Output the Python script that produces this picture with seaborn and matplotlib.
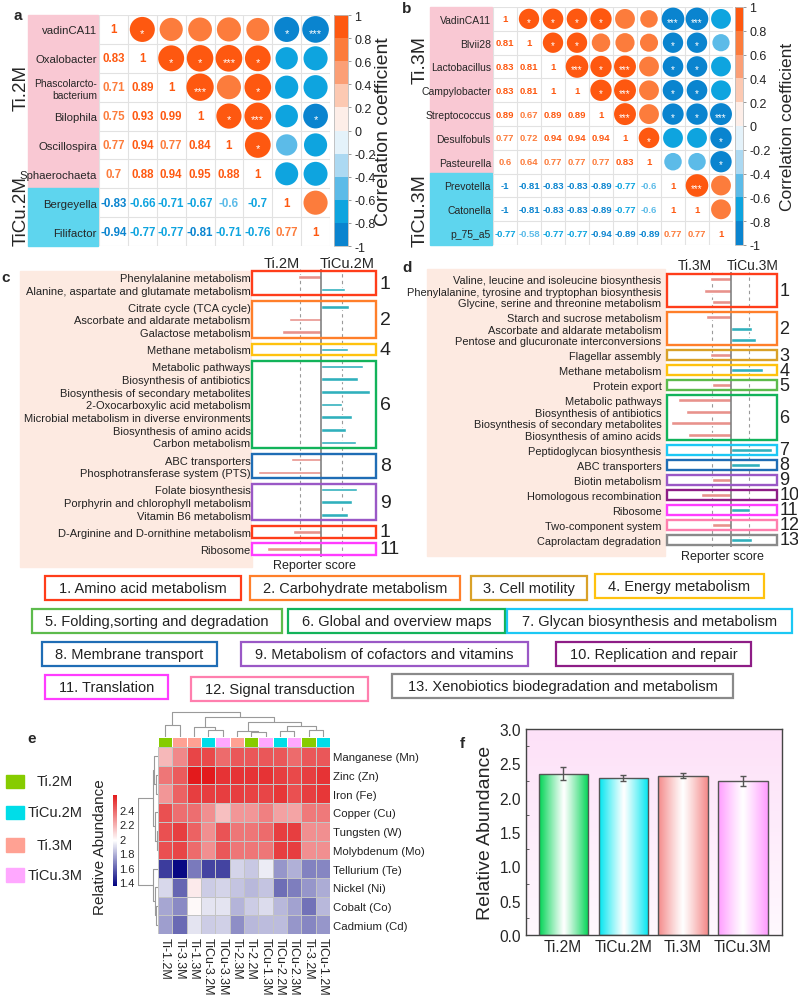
import numpy as np
import pandas as pd
import matplotlib
matplotlib.use("Agg")
import matplotlib.pyplot as plt
import matplotlib.colors as mcolors
import matplotlib.transforms as mtransforms
from matplotlib.patches import Rectangle
import seaborn as sns

sns.set_theme(style="white")
plt.rcParams["font.family"] = ["Liberation Sans", "DejaVu Sans"]

# ---------------- data ----------------
# a: Ti.2M / TiCu.2M genus correlations (lower triangle)
a_names = ["vadinCA11", "Oxalobacter", "Phascolarcto-\nbacterium", "Bilophila",
           "Oscillospira", "Sphaerochaeta", "Bergeyella", "Filifactor"]
a_lower = [
    [0.83],
    [0.71, 0.89],
    [0.75, 0.93, 0.99],
    [0.77, 0.94, 0.77, 0.84],
    [0.7, 0.88, 0.94, 0.95, 0.88],
    [-0.83, -0.66, -0.71, -0.67, -0.6, -0.7],
    [-0.94, -0.77, -0.77, -0.81, -0.71, -0.76, 0.77],
]
a_stars = [(0, 1, "*"), (0, 6, "*"), (0, 7, "***"),
           (1, 2, "*"), (1, 3, "*"), (1, 4, "***"), (1, 5, "*"),
           (2, 3, "***"), (2, 5, "*"),
           (3, 4, "*"), (3, 5, "***"), (3, 7, "*"),
           (4, 5, "*")]

# b: Ti.3M / TiCu.3M genus correlations
b_names = ["VadinCA11", "Blvii28", "Lactobacillus", "Campylobacter", "Streptococcus",
           "Desulfobuls", "Pasteurella", "Prevotella", "Catonella", "p_75_a5"]
b_lower = [
    [0.81],
    [0.83, 0.81],
    [0.83, 0.81, 1],
    [0.89, 0.67, 0.89, 0.89],
    [0.77, 0.72, 0.94, 0.94, 0.94],
    [0.6, 0.64, 0.77, 0.77, 0.77, 0.83],
    [-1, -0.81, -0.83, -0.83, -0.89, -0.77, -0.6],
    [-1, -0.81, -0.83, -0.83, -0.89, -0.77, -0.6, 1],
    [-0.77, -0.58, -0.77, -0.77, -0.94, -0.89, -0.89, 0.77, 0.77],
]
b_stars = [(0, 1, "*"), (0, 2, "*"), (0, 3, "*"), (0, 4, "*"), (0, 7, "***"), (0, 8, "***"),
           (1, 2, "*"), (1, 3, "*"), (1, 7, "*"), (1, 8, "*"),
           (2, 3, "***"), (2, 4, "*"), (2, 5, "***"), (2, 7, "*"), (2, 8, "*"),
           (3, 4, "*"), (3, 5, "***"), (3, 7, "*"), (3, 8, "*"),
           (4, 5, "***"), (4, 7, "*"), (4, 8, "*"), (4, 9, "***"),
           (5, 6, "*"), (5, 9, "*"), (6, 9, "*"), (7, 8, "***")]

# c: reporter scores Ti.2M (negative) vs TiCu.2M (positive)
c_pathways = ["Phenylalanine metabolism", "Alanine, aspartate and glutamate metabolism",
              "Citrate cycle (TCA cycle)", "Ascorbate and aldarate metabolism",
              "Galactose metabolism", "Methane metabolism", "Metabolic pathways",
              "Biosynthesis of antibiotics", "Biosynthesis of secondary metabolites",
              "2-Oxocarboxylic acid metabolism", "Microbial metabolism in diverse environments",
              "Biosynthesis of amino acids", "Carbon metabolism", "ABC transporters",
              "Phosphotransferase system (PTS)", "Folate biosynthesis",
              "Porphyrin and chlorophyll metabolism", "Vitamin B6 metabolism",
              "D-Arginine and D-ornithine metabolism", "Ribosome"]
c_scores = [-1.1, 1.14, 1.33, -1.52, -1.86, 1.29, 2.0, 1.76, 2.33, 1.0,
            1.48, 1.19, 1.67, -1.43, -3.0, 1.71, 1.48, 1.29, -1.33, -2.57]
c_blocks = [0, 0, 1, 1, 1, 2, 3, 3, 3, 3, 3, 3, 3, 4, 4, 5, 5, 5, 6, 7]
c_block_cats = [1, 2, 4, 6, 8, 9, 1, 11]

# d: reporter scores Ti.3M (negative) vs TiCu.3M (positive)
d_pathways = ["Valine, leucine and isoleucine biosynthesis",
              "Phenylalanine, tyrosine and tryptophan biosynthesis",
              "Glycine, serine and threonine metabolism", "Starch and sucrose metabolism",
              "Ascorbate and aldarate metabolism", "Pentose and glucuronate interconversions",
              "Flagellar assembly", "Methane metabolism", "Protein export",
              "Metabolic pathways", "Biosynthesis of antibiotics",
              "Biosynthesis of secondary metabolites", "Biosynthesis of amino acids",
              "Peptidoglycan biosynthesis", "ABC transporters", "Biotin metabolism",
              "Homologous recombination", "Ribosome", "Two-component system",
              "Caprolactam degradation"]
d_scores = [-1.15, -1.47, -1.05, -1.33, 1.13, 1.36, -1.11, 1.73, -1.05, -2.87,
            -2.45, -3.24, -2.33, 2.22, 1.55, -1.02, -1.64, 1.04, -1.02, 1.13]
d_blocks = [0, 0, 0, 1, 1, 1, 2, 3, 4, 5, 5, 5, 5, 6, 7, 8, 9, 10, 11, 12]
d_block_cats = [1, 2, 3, 4, 5, 6, 7, 8, 9, 10, 11, 12, 13]

# KEGG level-2 categories
kegg_names = ["1. Amino acid metabolism", "2. Carbohydrate metabolism", "3. Cell motility",
              "4. Energy metabolism", "5. Folding,sorting and degradation",
              "6. Global and overview maps", "7. Glycan biosynthesis and metabolism",
              "8. Membrane transport", "9. Metabolism of cofactors and vitamins",
              "10. Replication and repair", "11. Translation", "12. Signal transduction",
              "13. Xenobiotics biodegradation and metabolism"]
kegg_colors = ["#ff3d1a", "#ff7f2a", "#d9a128", "#ffc20e", "#5dbb4c", "#12b35a", "#1cc8f4",
               "#1f6db5", "#9a58c6", "#8e1d86", "#ff3cff", "#ff7fae", "#8a8a8a"]

# e: metal-related gene abundance heatmap
e_samples = ["Ti-1.2M", "Ti-3.3M", "Ti-1.3M", "TiCu-3.2M", "TiCu-3.3M", "Ti-2.3M",
             "Ti-2.2M", "TiCu-1.3M", "TiCu-2.2M", "TiCu-2.3M", "Ti-3.2M", "TiCu-1.2M"]
e_sample_group = [0, 2, 2, 1, 3, 2, 0, 3, 1, 3, 0, 1]
e_metals = ["Manganese (Mn)", "Zinc (Zn)", "Iron (Fe)", "Copper (Cu)", "Tungsten (W)",
            "Molybdenum (Mo)", "Tellurium (Te)", "Nickel (Ni)", "Cobalt (Co)", "Cadmium (Cd)"]
e_values = [
    [2.17, 2.30, 2.48, 2.47, 2.38, 2.43, 2.43, 2.43, 2.43, 2.38, 2.43, 2.43],
    [2.35, 2.42, 2.60, 2.60, 2.53, 2.53, 2.53, 2.53, 2.50, 2.47, 2.50, 2.53],
    [2.26, 2.40, 2.50, 2.50, 2.50, 2.50, 2.49, 2.48, 2.52, 2.45, 2.50, 2.52],
    [2.45, 2.37, 2.37, 2.28, 2.15, 2.26, 2.26, 2.32, 2.23, 2.22, 2.34, 2.34],
    [2.45, 2.50, 2.40, 2.28, 2.44, 2.35, 2.35, 2.38, 2.50, 2.50, 2.28, 2.28],
    [2.45, 2.48, 2.38, 2.28, 2.43, 2.35, 2.35, 2.35, 2.50, 2.50, 2.28, 2.28],
    [1.50, 1.37, 1.65, 1.52, 1.52, 1.87, 1.84, 1.93, 1.72, 1.78, 1.67, 1.68],
    [1.88, 1.60, 2.03, 1.85, 1.87, 1.83, 1.80, 1.83, 1.62, 1.66, 1.72, 1.77],
    [1.76, 1.69, 1.99, 1.91, 1.91, 1.79, 1.85, 1.89, 1.80, 1.75, 1.63, 1.80],
    [1.74, 1.61, 1.91, 1.85, 1.86, 1.70, 1.80, 1.81, 1.81, 1.72, 1.68, 1.72],
]
# hierarchical clustering trees: (child_a, child_b, height); new node ids follow leaves
e_col_merges = [(6, 7, 0.19), (5, 12, 0.24), (8, 9, 0.24), (10, 11, 0.28), (14, 15, 0.42),
                (13, 16, 0.58), (3, 4, 0.26), (2, 18, 0.40), (19, 17, 0.79), (0, 1, 0.49),
                (21, 20, 1.0)]
e_row_merges = [(1, 2, 0.10), (0, 10, 0.18), (4, 5, 0.05), (3, 12, 0.14), (11, 13, 0.28),
                (8, 9, 0.10), (7, 15, 0.16), (6, 16, 0.27), (14, 17, 1.0)]

group_names = ["Ti.2M", "TiCu.2M", "Ti.3M", "TiCu.3M"]
group_colors = ["#86cc00", "#00dde8", "#ffa193", "#ffa8ff"]

# f: mean relative abundance
f_means = [2.35, 2.29, 2.32, 2.24]
f_errs = [0.09, 0.04, 0.04, 0.07]
f_bar_colors = ["#00d455", "#00e6f0", "#f48a8a", "#ff9cff"]

# ---------------- styles ----------------
W, H = 798, 1003
fig = plt.figure(figsize=(W / 100, H / 100), dpi=100)

CORR_COLORS = ["#0a84cf", "#0ea4df", "#5cbbe8", "#acd9f2", "#e4f2fa",
               "#fdeee8", "#fcc9b2", "#fb9f76", "#fc7c3c", "#fe5810"]
CORR_CMAP = mcolors.ListedColormap(CORR_COLORS)
CORR_NORM = mcolors.BoundaryNorm(np.round(np.linspace(-1, 1, 11), 1), 10, clip=True)

HEAT_CMAP = mcolors.LinearSegmentedColormap.from_list("nwr", ["#00007f", "#ffffff", "#e31a1c"])
SIDE_COLORS = {"Ti": "#f7857d", "TiCu": "#19c3d3"}


def px_axes(x0, y0, x1, y1):
    return fig.add_axes([x0 / W, 1 - y1 / H, (x1 - x0) / W, (y1 - y0) / H])


def fig_rect(x0, y0, x1, y1, **kw):
    fig.add_artist(Rectangle((x0 / W, 1 - y1 / H), (x1 - x0) / W, (y1 - y0) / H,
                             transform=fig.transFigure, **kw))


def fig_text(x, y, s, **kw):
    fig.text(x / W, 1 - y / H, s, **kw)


def corr_matrix(lower):
    n = len(lower) + 1
    r = np.eye(n)
    for i, row in enumerate(lower, start=1):
        for j, v in enumerate(row):
            r[i, j] = r[j, i] = v
    return r


def draw_corr(ax, names, lower, stars, num_fs, lab_fs, smax, star_fs):
    r = corr_matrix(lower)
    n = len(names)
    recs = [(j + 0.5, i + 0.5, r[i, j], abs(r[i, j])) for i in range(n) for j in range(i + 1, n)]
    df = pd.DataFrame(recs, columns=["x", "y", "r", "a"])
    sns.scatterplot(data=df, x="x", y="y", hue="r", palette=CORR_CMAP, hue_norm=CORR_NORM,
                    size="a", sizes=(0, smax), size_norm=(0, 1), linewidth=0,
                    legend=False, ax=ax, zorder=3)
    for i in range(n):
        for j in range(i + 1):
            v = r[i, j]
            ax.text(j + 0.5, i + 0.5, f"{v:g}", color=CORR_CMAP(CORR_NORM(v)),
                    ha="center", va="center", fontsize=num_fs, fontweight="bold")
    for i, j, s in stars:
        ax.text(j + 0.5, i + 0.62, s, color="white", ha="center", va="center",
                fontsize=star_fs, zorder=4)
    for k in range(n + 1):
        ax.axhline(k, color="#e2e2e2", lw=0.8, zorder=1)
        ax.axvline(k, color="#e2e2e2", lw=0.8, zorder=1)
    ax.set_xlim(0, n)
    ax.set_ylim(n, 0)
    ax.set_xticks([])
    ax.set_yticks(np.arange(n) + 0.5, names, fontsize=lab_fs, multialignment="right")
    # two-line names are set a little smaller, as in the original figure
    for lab in ax.get_yticklabels():
        if "\n" in lab.get_text():
            lab.set_fontsize(lab_fs * 0.9)
    ax.tick_params(axis="y", length=0, pad=1.5)
    ax.set_xlabel("")
    ax.set_ylabel("")
    for s in ax.spines.values():
        s.set_visible(False)


def draw_corr_cbar(cax, tick_fs):
    sm = plt.cm.ScalarMappable(norm=CORR_NORM, cmap=CORR_CMAP)
    ticks = np.round(np.linspace(-1, 1, 11), 1)
    cb = fig.colorbar(sm, cax=cax, ticks=ticks)
    cb.ax.set_yticklabels([f"{t:g}" if abs(t) > 1e-9 else "0" for t in ticks])
    cb.ax.tick_params(labelsize=tick_fs, length=2.5, width=0.6, color="#888888",
                      labelcolor="#222222", pad=2)
    cb.outline.set_edgecolor("#bbbbbb")
    cb.outline.set_linewidth(0.6)


def row_positions(blocks, gap):
    return np.arange(len(blocks)) + gap * np.asarray(blocks)


def draw_pathways(ax, labels, scores, blocks, cats, ypos, bar_w, lab_fs, num_fs,
                  xlim, num_dx, ticks):
    df = pd.DataFrame({"y": ypos, "score": scores,
                       "side": ["Ti" if s < 0 else "TiCu" for s in scores]})
    sns.barplot(data=df, x="score", y="y", hue="side", palette=SIDE_COLORS, orient="h",
                native_scale=True, width=bar_w, dodge=False, legend=False, ax=ax, zorder=3)
    ax.axvline(0, color="#777777", lw=1.1, zorder=4)
    for v in (-1, 1):
        ax.axvline(v, color="#9a9a9a", lw=0.8, ls=(0, (3, 3)), zorder=2)
    trans = mtransforms.blended_transform_factory(ax.transAxes, ax.transData)
    blocks = np.asarray(blocks)
    for b, cat in enumerate(cats):
        yb = ypos[blocks == b]
        y0, y1 = yb.min() - 0.45, yb.max() + 0.45
        ax.add_patch(Rectangle((0, y0), 1, y1 - y0, transform=trans, fill=False,
                               ec=kegg_colors[cat - 1], lw=1.7, clip_on=False, zorder=5))
        ax.text(1 + num_dx, (y0 + y1) / 2, str(cat), transform=trans, ha="left",
                va="center", fontsize=num_fs, color="#222222")
    ax.set_xlim(*xlim)
    ax.set_ylim(ypos.max() + 0.6, -0.6)
    ax.set_yticks(ypos, labels, fontsize=lab_fs, color="#222222")
    ax.set_xticks([])
    ax.tick_params(axis="y", length=3 if ticks else 0, width=0.8, color="#666666", pad=1)
    ax.set_ylabel("")
    ax.set_xlabel("Reporter score", fontsize=9, color="#222222", labelpad=2)
    for s in ax.spines.values():
        s.set_visible(False)


def draw_dendro(ax, merges, n, orientation):
    pos = {i: i + 0.5 for i in range(n)}
    hgt = {i: 0.0 for i in range(n)}
    for k, (a, b, h) in enumerate(merges):
        xs = [pos[a], pos[a], pos[b], pos[b]]
        hs = [hgt[a], h, h, hgt[b]]
        if orientation == "top":
            ax.plot(xs, hs, color="#9a9a9a", lw=0.8)
        else:
            ax.plot(hs, xs, color="#9a9a9a", lw=0.8)
        pos[n + k] = (pos[a] + pos[b]) / 2
        hgt[n + k] = h
    if orientation == "top":
        ax.set_xlim(0, n)
        ax.set_ylim(0, 1.02)
    else:
        ax.set_ylim(n, 0)
        ax.set_xlim(1.02, 0)
    ax.axis("off")


# ---------------- panel a ----------------
fig_rect(28, 16, 98, 189, color="#f9c8d3", zorder=-1)
fig_rect(28, 189, 98, 247, color="#5ed5ee", zorder=-1)
ax_a = px_axes(99, 16, 330, 247)
draw_corr(ax_a, a_names, a_lower, a_stars, num_fs=8.3, lab_fs=8.2, smax=392, star_fs=8)
draw_corr_cbar(px_axes(334, 16, 348, 247), tick_fs=9)
fig_text(383, 132, "Correlation coefficient", rotation=90, ha="center", va="center",
         fontsize=14)
fig_text(21, 88, "Ti.2M", rotation=90, ha="center", va="center", fontsize=13.5)
fig_text(21, 211, "TiCu.2M", rotation=90, ha="center", va="center", fontsize=13.5)
fig_text(18, 16, "a", fontsize=11, fontweight="bold", ha="center", va="center")

# ---------------- panel b ----------------
fig_rect(430, 8, 492, 174, color="#f9c8d3", zorder=-1)
fig_rect(430, 174, 492, 246, color="#5ed5ee", zorder=-1)
ax_b = px_axes(493, 8, 733, 246)
draw_corr(ax_b, b_names, b_lower, b_stars, num_fs=6.8, lab_fs=7.5, smax=265, star_fs=7)
draw_corr_cbar(px_axes(735, 8, 743, 246), tick_fs=9)
fig_text(788, 127, "Correlation coefficient", rotation=90, ha="center", va="center",
         fontsize=12.5)
fig_text(420, 60, "Ti.3M", rotation=90, ha="center", va="center", fontsize=14)
fig_text(420, 211, "TiCu.3M", rotation=90, ha="center", va="center", fontsize=14)
fig_text(407, 9, "b", fontsize=11, fontweight="bold", ha="center", va="center")

# ---------------- panel c ----------------
c_y = row_positions(c_blocks, 0.35)
ppu = (550 - 278) / c_y.max()
fig_rect(20, 272, 252, 568, color="#fdeae1", zorder=-1)
ax_c = px_axes(252, 278 - 0.6 * ppu, 376, 550 + 0.6 * ppu)
draw_pathways(ax_c, c_pathways, c_scores, c_blocks, c_block_cats, c_y, 0.28, 8.0, 14,
              (-3.29, 2.62), 0.03, ticks=False)
fig_text(282, 264, "Ti.2M", ha="center", va="center", fontsize=10.5)
fig_text(347, 264, "TiCu.2M", ha="center", va="center", fontsize=10.5)
fig_text(6, 278, "c", fontsize=11, fontweight="bold", ha="center", va="center")

# ---------------- panel d ----------------
d_y = row_positions(d_blocks, 0.3)
ppu = (541 - 280) / d_y.max()
fig_rect(427, 270, 665, 557, color="#fdeae1", zorder=-1)
ax_d = px_axes(667, 280 - 0.6 * ppu, 777, 541 + 0.6 * ppu)
draw_pathways(ax_d, d_pathways, d_scores, d_blocks, d_block_cats, d_y, 0.35, 7.9, 13,
              (-3.46, 2.49), 0.02, ticks=True)
fig_text(695, 266, "Ti.3M", ha="center", va="center", fontsize=10)
fig_text(753, 266, "TiCu.3M", ha="center", va="center", fontsize=10)
fig_text(407, 268, "d", fontsize=11, fontweight="bold", ha="center", va="center")

# ---------------- KEGG category legend ----------------
legend_boxes = [(45, 241, 589), (250, 460, 589), (471, 587, 589), (595, 764, 587),
                (32, 282, 622), (288, 505, 622), (507, 792, 622),
                (42, 217, 655), (241, 528, 655), (556, 751, 655),
                (45, 168, 688), (191, 368, 690), (392, 733, 687)]
for (x0, x1, yc), name, col in zip(legend_boxes, kegg_names, kegg_colors):
    fig_rect(x0, yc - 12, x1, yc + 12, fill=False, ec=col, lw=1.6)
    fig_text((x0 + x1) / 2, yc, name, ha="center", va="center",
             fontsize=10.5, color="#222222")

# ---------------- panel e ----------------
ax_e = px_axes(158, 748, 330, 935)
cax_e = px_axes(113, 796, 117, 887)
e_df = pd.DataFrame(e_values, index=e_metals, columns=e_samples)
sns.heatmap(e_df, ax=ax_e, cmap=HEAT_CMAP, vmin=1.35, vmax=2.6, cbar_ax=cax_e,
            linewidths=0.5, linecolor="#c4c4c4", xticklabels=True, yticklabels=True)
ax_e.yaxis.tick_right()
ax_e.set_yticklabels(e_metals, rotation=0, fontsize=8.2, color="#222222")
ax_e.set_xticklabels(e_samples, rotation=270, fontsize=9, color="#222222", va="top")
ax_e.tick_params(length=0, pad=2)
cax_e.yaxis.set_ticks_position("right")
cax_e.set_yticks([1.4, 1.6, 1.8, 2.0, 2.2, 2.4], ["1.4", "1.6", "1.8", "2", "2.2", "2.4"])
cax_e.tick_params(labelsize=8, length=0, pad=1.5)
for s in cax_e.spines.values():
    s.set_visible(False)
fig_text(100, 847, "Relative Abundance", rotation=90, ha="center", va="center",
         fontsize=11)

ax_strip = px_axes(158, 738, 330, 748)
sns.heatmap(np.array([e_sample_group]), ax=ax_strip, cmap=mcolors.ListedColormap(group_colors),
            vmin=-0.5, vmax=3.5, cbar=False, linewidths=0.4, linecolor="white",
            xticklabels=False, yticklabels=False)
draw_dendro(px_axes(158, 712, 330, 738), e_col_merges, len(e_samples), "top")
draw_dendro(px_axes(138, 748, 158, 935), e_row_merges, len(e_metals), "left")

legend_sq = [(776, 789), (807, 820), (839, 853), (869, 883)]
for (y0, y1), name, col in zip(legend_sq, group_names, group_colors):
    fig_rect(6, y0, 24, y1, color=col)
    fig_text(55, (y0 + y1) / 2, name, ha="center", va="center", fontsize=10.5)
fig_text(32, 739, "e", fontsize=11, fontweight="bold", ha="center", va="center")

# ---------------- panel f ----------------
ax_f = px_axes(526, 730, 782, 936)
f_df = pd.DataFrame({"group": group_names, "mean": f_means})
sns.barplot(data=f_df, x="group", y="mean", ax=ax_f, width=0.82, color="white",
            edgecolor="#555555", linewidth=1.0, errorbar=None)
xlim_f = (-0.62, 3.65)
ramp = np.abs(np.linspace(-1, 1, 80)) ** 1.1
for patch, col in zip(ax_f.patches, f_bar_colors):
    rgb = np.array(mcolors.to_rgb(col))
    img = (1 - ramp)[:, None] * np.ones(3) + ramp[:, None] * rgb
    x0, y0 = patch.get_x(), patch.get_y()
    im = ax_f.imshow(img[None, :, :], extent=[x0, x0 + patch.get_width(), y0,
                     y0 + patch.get_height()], aspect="auto", zorder=2)
    im.set_clip_path(patch)
    patch.set_facecolor("none")
    patch.set_zorder(3)
ax_f.errorbar(range(len(f_means)), f_means, yerr=f_errs, fmt="none", ecolor="#555555",
              elinewidth=1, capsize=2.5, capthick=1, zorder=4)
bg = np.linspace(0, 1, 50)[:, None, None] * (np.array(mcolors.to_rgb("#fde1f8")) -
                                             np.array(mcolors.to_rgb("#fff8fe"))) \
    + np.array(mcolors.to_rgb("#fff8fe"))
ax_f.imshow(bg, extent=[xlim_f[0], xlim_f[1], 0, 3], origin="lower", aspect="auto", zorder=0)
ax_f.set_xlim(*xlim_f)
ax_f.set_ylim(0, 3)
ax_f.set_yticks(np.arange(0, 3.01, 0.5))
ax_f.set_yticklabels([f"{v:.1f}" for v in np.arange(0, 3.01, 0.5)])
ax_f.yaxis.set_minor_locator(matplotlib.ticker.MultipleLocator(0.25))
ax_f.tick_params(axis="y", which="major", direction="in", length=4, width=0.8,
                 labelsize=11.2, color="#444444")
ax_f.tick_params(axis="y", which="minor", direction="in", length=2, width=0.6,
                 color="#444444", left=True)
ax_f.tick_params(axis="x", length=0, labelsize=11.2, pad=3)
ax_f.set_xlabel("")
ax_f.set_ylabel("Relative Abundance", fontsize=14, labelpad=4)
for s in ax_f.spines.values():
    s.set_edgecolor("#444444")
    s.set_linewidth(1.0)
fig_text(462, 744, "f", fontsize=11, fontweight="bold", ha="center", va="center")

fig.savefig("out.png", dpi=100)
